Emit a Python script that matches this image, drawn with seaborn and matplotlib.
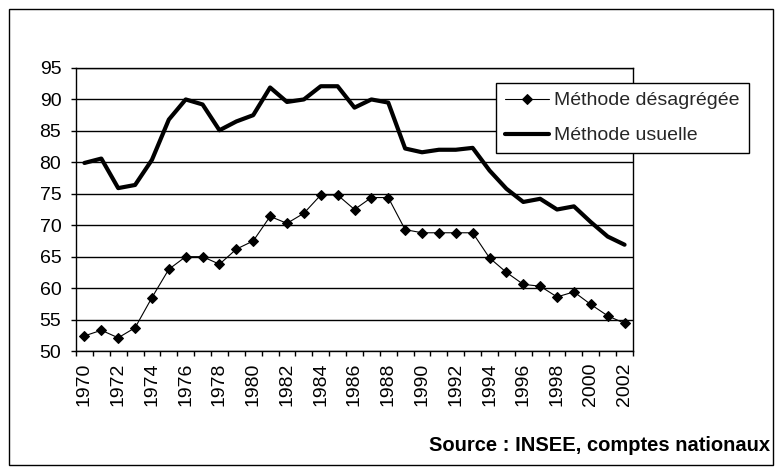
import matplotlib
matplotlib.use("Agg")
import matplotlib.pyplot as plt
import seaborn as sns
import pandas as pd
from matplotlib.patches import Rectangle
from matplotlib.ticker import FixedLocator

years = list(range(1970, 2003))
desagregee = [52.4, 53.3, 52.1, 53.7, 58.5, 63.0, 65.0, 65.0, 63.8, 66.2,
              67.5, 71.4, 70.3, 71.9, 74.8, 74.8, 72.5, 74.4, 74.4, 69.3,
              68.8, 68.8, 68.8, 68.8, 64.8, 62.5, 60.6, 60.3, 58.6, 59.4,
              57.4, 55.6, 54.4]
usuelle = [79.9, 80.6, 75.9, 76.4, 80.4, 86.8, 90.0, 89.2, 85.1, 86.5,
           87.5, 91.9, 89.6, 90.0, 92.1, 92.1, 88.7, 90.0, 89.5, 82.2,
           81.6, 82.0, 82.0, 82.3, 78.7, 75.8, 73.7, 74.2, 72.5, 73.0,
           70.5, 68.2, 66.9]
label_desag = "Méthode désagrégée"
label_usuel = "Méthode usuelle"
source_text = "Source : INSEE, comptes nationaux"
yticks = [50, 55, 60, 65, 70, 75, 80, 85, 90, 95]
xlabel_years = list(range(1970, 2003, 2))

sns.set_theme(style="white")
plt.rcParams["font.family"] = ["Liberation Sans", "DejaVu Sans"]

W, H = 784, 475
fig = plt.figure(figsize=(W / 100, H / 100), dpi=100)
fig.patch.set_facecolor("white")

# axes placement (pixels)
left, right, top, bottom = 76, 633, 68, 351
ax = fig.add_axes([left / W, 1 - bottom / H, (right - left) / W, (bottom - top) / H])

df = pd.DataFrame({"year": years, "desag": desagregee, "usuel": usuelle})

sns.lineplot(data=df, x="year", y="desag", ax=ax, color="black", lw=0.8,
             marker="D", markersize=5.5, markeredgecolor="black",
             markerfacecolor="black", label=label_desag)
sns.lineplot(data=df, x="year", y="usuel", ax=ax, color="black", lw=3.0,
             label=label_usuel)

ax.set_xlim(1969.5, 2002.5)
ax.set_ylim(50, 95)
ax.set_xlabel("")
ax.set_ylabel("")

ax.set_yticks(yticks)
ax.set_yticklabels([str(v) for v in yticks])
ax.yaxis.grid(True, color="black", lw=1.0)
ax.xaxis.grid(False)
ax.set_axisbelow(True)

ax.set_xticks(xlabel_years)
ax.set_xticklabels([str(y) for y in xlabel_years], rotation=90)
ax.xaxis.set_minor_locator(FixedLocator([y - 0.5 for y in years] + [2002.5]))
ax.tick_params(axis="x", which="major", length=0, pad=8.5, labelsize=14,
               colors="black")
ax.tick_params(axis="x", which="minor", length=3.5, width=1, color="black",
               direction="out", bottom=True)
ax.tick_params(axis="y", which="major", length=3.6, width=1, color="black",
               direction="out", left=True, pad=7, labelsize=14,
               labelcolor="black")

for s in ax.spines.values():
    s.set_color("black")
    s.set_linewidth(1.0)
    s.set_visible(True)

ax.get_legend().remove()
handles, labels = ax.get_legend_handles_labels()
leg = fig.legend(handles, labels, loc="upper left",
                 bbox_to_anchor=(496 / W, 1 - 83 / H),
                 frameon=True, fancybox=False, shadow=False, framealpha=1,
                 edgecolor="black", fontsize=14, handlelength=2.3,
                 handletextpad=0.25, labelspacing=0.9, borderpad=0.45,
                 borderaxespad=0)
leg.get_frame().set_linewidth(1.0)

fig.text(770 / W, 1 - 451 / H, source_text, ha="right", va="baseline",
         fontsize=14.5, fontweight="bold", color="black")

fig.patches.append(Rectangle((9 / W, 1 - 465 / H), (773 - 9) / W, (465 - 9) / H,
                             transform=fig.transFigure, fill=False,
                             edgecolor="black", lw=1.0))

fig.savefig("out.png", dpi=100, facecolor="white")
